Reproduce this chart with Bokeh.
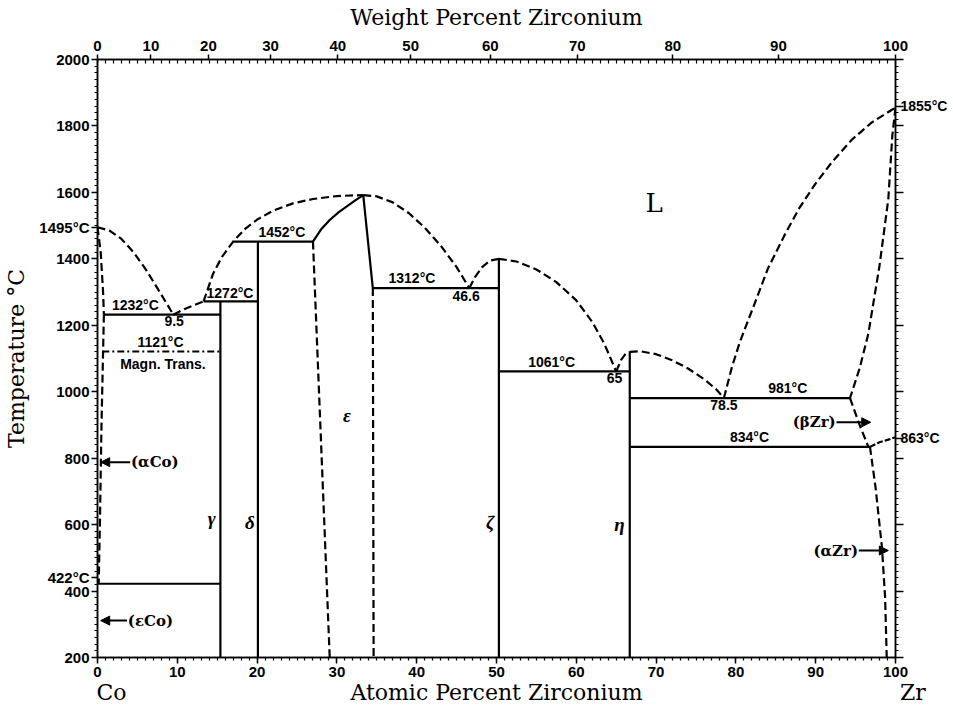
from bokeh.plotting import figure
from bokeh.models import (LinearAxis, FixedTicker, SingleIntervalTicker,
                          CustomJSTickFormatter, Label, Arrow, NormalHead, Range1d)
from bokeh.embed import file_html
from bokeh.resources import INLINE

# ---------------- data ----------------
M_CO = 58.933
M_ZR = 91.224

wt_ticks = [0, 10, 20, 30, 40, 50, 60, 70, 80, 90, 100]   # top axis labels (wt% Zr)
temp_ticks = [200, 400, 600, 800, 1000, 1200, 1400, 1600, 1800, 2000]
# temperatures written in the margins: text -> temperature at which the text sits
left_marks = {"1495°C": 1495, "422°C": 440}
right_marks = {"1855°C": 1860, "863°C": 860}
# labels on the line of the bottom axis title: text -> at% position
bottom_marks = {"Co": 1.75, "Atomic Percent Zirconium": 50, "\u00a0\u00a0\u00a0\u00a0\u00a0Zr": 100}

# liquidus branches (dashed)
liq1_x = [0, 1.5, 3, 4.5, 6, 7.5, 9.5]
liq1_t = [1495, 1485, 1460, 1420, 1370, 1312, 1232]
liq2_x = [9.5, 11, 13.3]
liq2_t = [1232, 1250, 1272]
liq3_x = [13.3, 13.9, 14.5, 15.6, 17.0, 18.5, 20.0, 22.0, 24.5, 27.0, 30.0, 33.3]
liq3_t = [1272, 1315, 1356, 1406, 1452, 1490, 1518, 1545, 1567, 1580, 1589, 1592]
liq4_x = [33.3, 35, 37, 39, 41, 43, 45, 46.6]
liq4_t = [1592, 1588, 1570, 1538, 1494, 1440, 1375, 1312]
liq5_x = [46.6, 47.3, 48.2, 49.2, 50.3]
liq5_t = [1312, 1345, 1375, 1395, 1400]
liq6_x = [50.3, 52.5, 55, 57.5, 60, 62, 63.5, 65]
liq6_t = [1400, 1392, 1368, 1330, 1275, 1210, 1145, 1061]
liq7_x = [65, 65.6, 66.2, 66.7]
liq7_t = [1061, 1095, 1115, 1120]
liq8_x = [66.7, 68, 70, 72, 74, 76, 77.5, 78.5]
liq8_t = [1120, 1122, 1113, 1095, 1070, 1038, 1008, 981]
liq9_x = [78.5, 79.5, 80.5, 82.5, 84, 86.2, 88, 90, 92, 94.5, 97, 99.5, 100]
liq9_t = [981, 1074, 1150, 1275, 1370, 1476, 1555, 1627, 1690, 1758, 1810, 1848, 1855]

# other dashed boundaries
co_sol_x = [0, 0.4, 0.7, 0.8]
co_sol_t = [1495, 1420, 1300, 1232]
co_solv_x = [0.8, 0.7, 0.5, 0.3, 0.15]
co_solv_t = [1232, 1121, 900, 600, 422]
eps_l_x = [27.0, 29.1]
eps_l_t = [1452, 200]
eps_r_x = [34.5, 34.6]
eps_r_t = [1312, 200]
bzr_sol_x = [100, 99.6, 99.1, 98.0, 96.6, 95.5, 94.3]
bzr_sol_t = [1855, 1770, 1580, 1380, 1175, 1070, 981]
bzr_lo_x = [94.3, 95.5, 96.6]
bzr_lo_t = [981, 900, 834]
azr_x = [96.8, 97.5, 98.3, 98.7, 98.9]
azr_t = [834, 712, 532, 380, 200]
tr_x = [96.8, 98.0, 99.0, 100]
tr_t = [834, 848, 855, 863]

# solid boundaries: invariant lines and compounds
inv_x = [[0.8, 15.4], [13.3, 20.1], [17.0, 27.0], [34.5, 50.3], [50.3, 66.7],
         [66.7, 94.3], [66.7, 96.8], [0, 15.4]]
inv_t = [[1232, 1232], [1272, 1272], [1452, 1452], [1312, 1312], [1061, 1061],
         [981, 981], [834, 834], [422, 422]]
cmp_x = [[15.4, 15.4], [20.1, 20.1], [50.3, 50.3], [66.7, 66.7]]
cmp_t = [[200, 1272], [200, 1452], [200, 1400], [200, 1120]]
eps_sol_x = [27, 28, 29.1, 30.2, 31.2, 32.3, 33.3, 34.5]
eps_sol_t = [1452, 1488, 1517, 1540, 1557, 1576, 1592, 1312]
magn_x = [0.6, 15.4]
magn_t = [1121, 1121]

# ---------------- figure ----------------
W, H = 950, 712
p = figure(width=W, height=H, output_backend="svg", toolbar_location=None,
           x_range=Range1d(0, 100), y_range=Range1d(200, 2000),
           min_border_left=97, min_border_right=53, min_border_top=59,
           min_border_bottom=55, x_axis_location=None, y_axis_location=None)
p.grid.visible = False
p.outline_line_color = "black"
p.outline_line_width = 1.5
p.background_fill_color = "white"
p.border_fill_color = "white"

TICK_FONT = "Liberation Sans"
TITLE_FONT = "DejaVu Serif"

def style_axis(ax):
    ax.axis_line_width = 1.5
    ax.major_tick_line_width = 1.5
    ax.minor_tick_line_width = 1.2
    ax.major_label_text_font = TICK_FONT
    ax.major_label_text_font_style = "bold"
    ax.major_label_text_font_size = "15px"
    ax.axis_label_text_font = TITLE_FONT
    ax.axis_label_text_font_style = "normal"
    ax.axis_label_text_font_size = "22px"
    ax.axis_label_text_color = "black"
    ax.major_label_text_color = "black"

def mapped_formatter(mapping, default):
    code = ""
    for text, pos in mapping.items():
        code += 'if (Math.abs(tick - %r) < 0.01) { return "%s"; }\n' % (pos, text)
    return CustomJSTickFormatter(code=code + default)

# bottom: atomic percent
bottom = LinearAxis(ticker=SingleIntervalTicker(interval=10, num_minor_ticks=10))
style_axis(bottom)
bottom.major_tick_out = 6; bottom.major_tick_in = 0
bottom.minor_tick_out = 3; bottom.minor_tick_in = 0
bottom.major_label_standoff = 3
p.add_layout(bottom, "below")

# second row below: Co, axis title, Zr
bottom2 = LinearAxis(ticker=FixedTicker(ticks=list(bottom_marks.values()), minor_ticks=[]),
                     formatter=mapped_formatter(bottom_marks, 'return "";'))
style_axis(bottom2)
bottom2.axis_line_color = None
bottom2.major_tick_line_color = None
bottom2.minor_tick_line_color = None
bottom2.major_tick_out = 0; bottom2.major_tick_in = 0
bottom2.major_label_standoff = 0
bottom2.major_label_text_font = TITLE_FONT
bottom2.major_label_text_font_style = "normal"
bottom2.major_label_text_font_size = "22px"
p.add_layout(bottom2, "below")

# top: weight percent labels, atomic percent minor ticks inside
wt_pos = []
for w in wt_ticks:
    a = w / M_ZR
    b = (100 - w) / M_CO
    wt_pos.append(100.0 * a / (a + b))
top = LinearAxis(ticker=FixedTicker(ticks=wt_pos, minor_ticks=list(range(0, 101))),
                 formatter=CustomJSTickFormatter(code="""
                    if (tick >= 99.999) { return "100"; }
                    const a = tick * %f, b = (100 - tick) * %f;
                    return Math.round(100 * a / (a + b)).toString();
                 """ % (M_ZR, M_CO)),
                 axis_label="Weight Percent Zirconium")
style_axis(top)
top.major_tick_out = 5; top.major_tick_in = 0
top.minor_tick_out = 0; top.minor_tick_in = 4
top.major_label_standoff = 4
top.axis_label_standoff = 8
p.add_layout(top, "above")

minor_t = list(range(200, 2001, 20))
left = LinearAxis(ticker=FixedTicker(ticks=temp_ticks + list(left_marks.values()),
                                     minor_ticks=minor_t),
                  formatter=mapped_formatter(left_marks, "return tick.toFixed(0);"),
                  axis_label="Temperature °C")
style_axis(left)
left.major_tick_out = 6; left.major_tick_in = 0
left.minor_tick_out = 3; left.minor_tick_in = 0
left.major_label_standoff = 2
left.axis_label_standoff = 7
p.add_layout(left, "left")

right = LinearAxis(ticker=FixedTicker(ticks=temp_ticks + list(right_marks.values()),
                                      minor_ticks=minor_t),
                   formatter=mapped_formatter(right_marks, 'return "";'))
style_axis(right)
right.major_tick_out = 8; right.major_tick_in = 0
right.minor_tick_out = 3; right.minor_tick_in = 0
right.major_label_standoff = -3
right.major_label_text_font_size = "14px"
p.add_layout(right, "right")

# ---------------- boundaries ----------------
DASH = "8 4"
LW = 2.2
dashed_x = [liq1_x, liq2_x, liq3_x, liq4_x, liq5_x, liq6_x, liq7_x, liq8_x, liq9_x,
            co_sol_x, co_solv_x, eps_l_x, eps_r_x, bzr_sol_x, bzr_lo_x, azr_x]
dashed_t = [liq1_t, liq2_t, liq3_t, liq4_t, liq5_t, liq6_t, liq7_t, liq8_t, liq9_t,
            co_sol_t, co_solv_t, eps_l_t, eps_r_t, bzr_sol_t, bzr_lo_t, azr_t]
p.multi_line(dashed_x, dashed_t, line_color="black", line_width=LW, line_dash=DASH)
p.line(tr_x, tr_t, line_color="black", line_width=LW, line_dash="6 2")

p.multi_line(inv_x + cmp_x, inv_t + cmp_t, line_color="black", line_width=LW)
p.line(eps_sol_x, eps_sol_t, line_color="black", line_width=LW)
p.line(magn_x, magn_t, line_color="black", line_width=1.8, line_dash="7 3 2 3")

# ---------------- labels ----------------
def lab(text, x, y, align="center", baseline="middle", font="Liberation Sans",
        size="14px", style="bold"):
    p.add_layout(Label(x=x, y=y, text=text, text_align=align, text_baseline=baseline,
                       text_font=font, text_font_size=size, text_font_style=style,
                       text_color="black"))

lab("1232°C", 4.75, 1236, baseline="bottom")
lab("9.5", 9.6, 1228, baseline="top")
lab("1272°C", 16.6, 1274, baseline="bottom")
lab("1121°C", 7.9, 1126, baseline="bottom")
lab("Magn. Trans.", 8.2, 1108, baseline="top")
lab("1452°C", 23.1, 1457, baseline="bottom")
lab("1312°C", 39.4, 1317, baseline="bottom")
lab("46.6", 46.2, 1302, baseline="top")
lab("1061°C", 56.9, 1066, baseline="bottom")
lab("65", 64.8, 1056, baseline="top")
lab("981°C", 86.5, 988, baseline="bottom")
lab("78.5", 78.5, 976, baseline="top")
lab("834°C", 81.7, 840, baseline="bottom")

lab("L", 69.75, 1567, font="DejaVu Serif", size="26px", style="normal")
for g, gx, gy in [("ε", 31.25, 928), ("γ", 14.3, 617), ("δ", 19.1, 607),
                  ("ζ", 49.2, 607), ("η", 65.4, 600)]:
    lab(g, gx, gy, font="Liberation Serif", size="19px", style="bold italic")

PH_FONT = "DejaVu Serif"
lab("(αCo)", 4.2, 788, align="left", font=PH_FONT, size="15px")
lab("(εCo)", 3.8, 311, align="left", font=PH_FONT, size="15px")
lab("(βZr)", 92.5, 908, align="right", font=PH_FONT, size="15px")
lab("(αZr)", 95.3, 522, align="right", font=PH_FONT, size="15px")

def arrow(x0, y0, x1, y1):
    p.add_layout(Arrow(end=NormalHead(size=9, line_color="black", fill_color="black",
                                      line_width=1),
                       x_start=x0, y_start=y0, x_end=x1, y_end=y1,
                       line_color="black", line_width=2))

arrow(4.1, 788, 0.4, 788)
arrow(3.7, 311, 0.4, 311)
arrow(92.6, 908, 96.9, 908)
arrow(95.4, 522, 99.1, 522)

open("out.html", "w").write(file_html(p, INLINE))
